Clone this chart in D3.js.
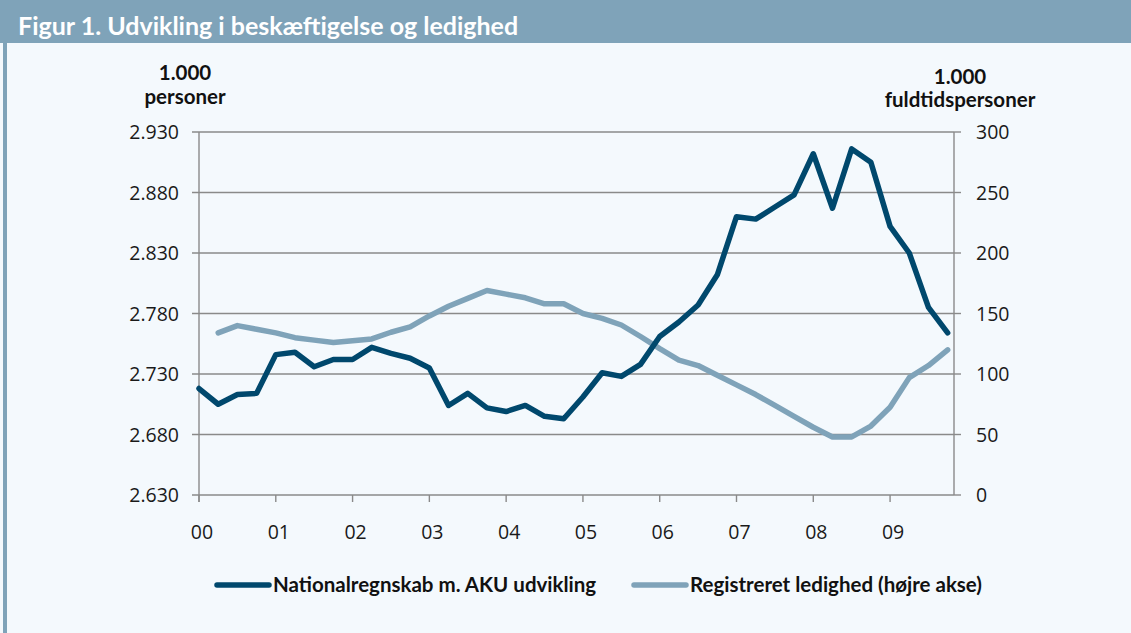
<!DOCTYPE html>
<html>
<head>
<meta charset="utf-8">
<script src="https://cdn.jsdelivr.net/npm/d3@7"></script>
<style>
  body { margin: 0; background: #f4f9fd; }
  svg { display: block; }
  .tick-label { font-family: "Open Sans", "DejaVu Sans", sans-serif; font-size: 19.5px; fill: #1a1a1a; }
  .head { font-family: Lato, sans-serif; font-weight: bold; font-size: 20.5px; fill: #111; }
  .legend { font-family: Lato, sans-serif; font-weight: bold; font-size: 20.5px; fill: #111; }
</style>
</head>
<body>
<div id="chart"></div>
<script>
// data, quarterly 2000Q1 - 2009Q4
var yearLabels = ["00", "01", "02", "03", "04", "05", "06", "07", "08", "09"];

// Nationalregnskab m. AKU udvikling (1.000 personer, left axis)
var beskaeftigelse = [2718, 2705, 2713, 2714, 2746, 2748, 2736, 2742, 2742, 2752,
  2747, 2743, 2735, 2704, 2714, 2702, 2699, 2704, 2695, 2693,
  2711, 2731, 2728, 2738, 2761, 2773, 2787, 2812, 2860, 2858,
  2868, 2878, 2912, 2867, 2916, 2905, 2852, 2830, 2785, 2764];

// Registreret ledighed (1.000 fuldtidspersoner, right axis)
var ledighed = [null, 134, 140, 137, 134, 130, 128, 126, 127.5, 129,
  134.5, 139, 148, 156, 162.5, 169, 166, 163, 158, 158,
  150, 146, 140.5, 131, 121, 111.5, 107, 99, 91, 83,
  74, 65, 56, 48, 48, 57, 72.5, 97, 107, 120];

var leftTicks = [2630, 2680, 2730, 2780, 2830, 2880, 2930];
var rightTicks = [0, 50, 100, 150, 200, 250, 300];

var svgWidth = 1131;
var svgHeight = 633;
var plot = { left: 199, right: 954, top: 132, bottom: 495 };

var darkBlue = "#00486d";
var lightBlue = "#7fa3b9";
var gridColor = "#8a8a8a";

var svg = d3.select("#chart").append("svg")
  .attr("width", svgWidth)
  .attr("height", svgHeight);

svg.append("rect").attr("width", svgWidth).attr("height", svgHeight).attr("fill", "#f4f9fd");

// title bar + left border strip
svg.append("rect").attr("x", 0).attr("y", 0).attr("width", svgWidth).attr("height", 43).attr("fill", lightBlue);
svg.append("rect").attr("x", 3).attr("y", 43).attr("width", 4).attr("height", svgHeight - 43).attr("fill", lightBlue);
svg.append("text")
  .attr("x", 18).attr("y", 35)
  .style("font-family", "Lato, sans-serif")
  .style("font-weight", "bold")
  .style("font-size", "25px")
  .style("fill", "#fff")
  .text("Figur 1. Udvikling i beskæftigelse og ledighed");

// scales
var x = d3.scaleLinear().domain([0, 39.33]).range([plot.left, plot.right]);
var yLeft = d3.scaleLinear().domain([2630, 2930]).range([plot.bottom, plot.top]);
var yRight = d3.scaleLinear().domain([0, 300]).range([plot.bottom, plot.top]);

// gridlines
svg.append("g").selectAll("line").data(leftTicks)
  .enter().append("line")
  .attr("x1", plot.left - 7).attr("x2", plot.right)
  .attr("y1", d => yLeft(d)).attr("y2", d => yLeft(d))
  .attr("stroke", gridColor).attr("stroke-width", 1.4);

// right axis ticks outward
svg.append("g").selectAll("line").data(rightTicks)
  .enter().append("line")
  .attr("x1", plot.right).attr("x2", plot.right + 7)
  .attr("y1", d => yRight(d)).attr("y2", d => yRight(d))
  .attr("stroke", gridColor).attr("stroke-width", 1.4);

// axis lines
svg.append("line").attr("x1", plot.left).attr("x2", plot.left).attr("y1", plot.top).attr("y2", plot.bottom + 7)
  .attr("stroke", gridColor).attr("stroke-width", 1.4);
svg.append("line").attr("x1", plot.right).attr("x2", plot.right).attr("y1", plot.top).attr("y2", plot.bottom)
  .attr("stroke", gridColor).attr("stroke-width", 1.4);

// x ticks each year
svg.append("g").selectAll("line").data(yearLabels)
  .enter().append("line")
  .attr("x1", (d, i) => x(i * 4)).attr("x2", (d, i) => x(i * 4))
  .attr("y1", plot.bottom).attr("y2", plot.bottom + 7)
  .attr("stroke", gridColor).attr("stroke-width", 1.4);

// tick labels
svg.append("g").selectAll("text").data(leftTicks)
  .enter().append("text")
  .attr("class", "tick-label")
  .attr("x", 179).attr("y", d => yLeft(d)).attr("dy", "0.36em")
  .attr("text-anchor", "end")
  .text(d => d3.format(",")(d).replace(",", "."));

svg.append("g").selectAll("text").data(rightTicks)
  .enter().append("text")
  .attr("class", "tick-label")
  .attr("x", 976).attr("y", d => yRight(d)).attr("dy", "0.36em")
  .text(d => d);

svg.append("g").selectAll("text").data(yearLabels)
  .enter().append("text")
  .attr("class", "tick-label")
  .attr("x", (d, i) => x(i * 4) + 3).attr("y", 539)
  .attr("text-anchor", "middle")
  .text(d => d);

// axis headers
svg.append("text").attr("class", "head").attr("x", 185).attr("y", 80).attr("text-anchor", "middle").text("1.000");
svg.append("text").attr("class", "head").attr("x", 185).attr("y", 104).attr("text-anchor", "middle").text("personer");
svg.append("text").attr("class", "head").attr("x", 960).attr("y", 84).attr("text-anchor", "middle").text("1.000");
svg.append("text").attr("class", "head").attr("x", 960).attr("y", 107).attr("text-anchor", "middle").text("fuldtidspersoner");

// lines
var lineLeft = d3.line()
  .x((d, i) => x(i))
  .y(d => yLeft(d));

var lineRight = d3.line()
  .defined(d => d !== null)
  .x((d, i) => x(i))
  .y(d => yRight(d));

svg.append("path").datum(ledighed)
  .attr("d", lineRight)
  .attr("fill", "none")
  .attr("stroke", lightBlue)
  .attr("stroke-width", 5.5)
  .attr("stroke-linejoin", "round")
  .attr("stroke-linecap", "round");

svg.append("path").datum(beskaeftigelse)
  .attr("d", lineLeft)
  .attr("fill", "none")
  .attr("stroke", darkBlue)
  .attr("stroke-width", 5.5)
  .attr("stroke-linejoin", "round")
  .attr("stroke-linecap", "round");

// legend
var legendItems = [
  { label: "Nationalregnskab m. AKU udvikling", color: darkBlue, x: 217 },
  { label: "Registreret ledighed (højre akse)", color: lightBlue, x: 634 }
];
var legend = svg.append("g").selectAll("g").data(legendItems).enter().append("g");
legend.append("line")
  .attr("x1", d => d.x).attr("x2", d => d.x + 52)
  .attr("y1", 585).attr("y2", 585)
  .attr("stroke", d => d.color).attr("stroke-width", 5.5).attr("stroke-linecap", "round");
legend.append("text")
  .attr("class", "legend")
  .attr("x", d => d.x + 56).attr("y", 585).attr("dy", "0.35em")
  .text(d => d.label);
</script>
</body>
</html>
